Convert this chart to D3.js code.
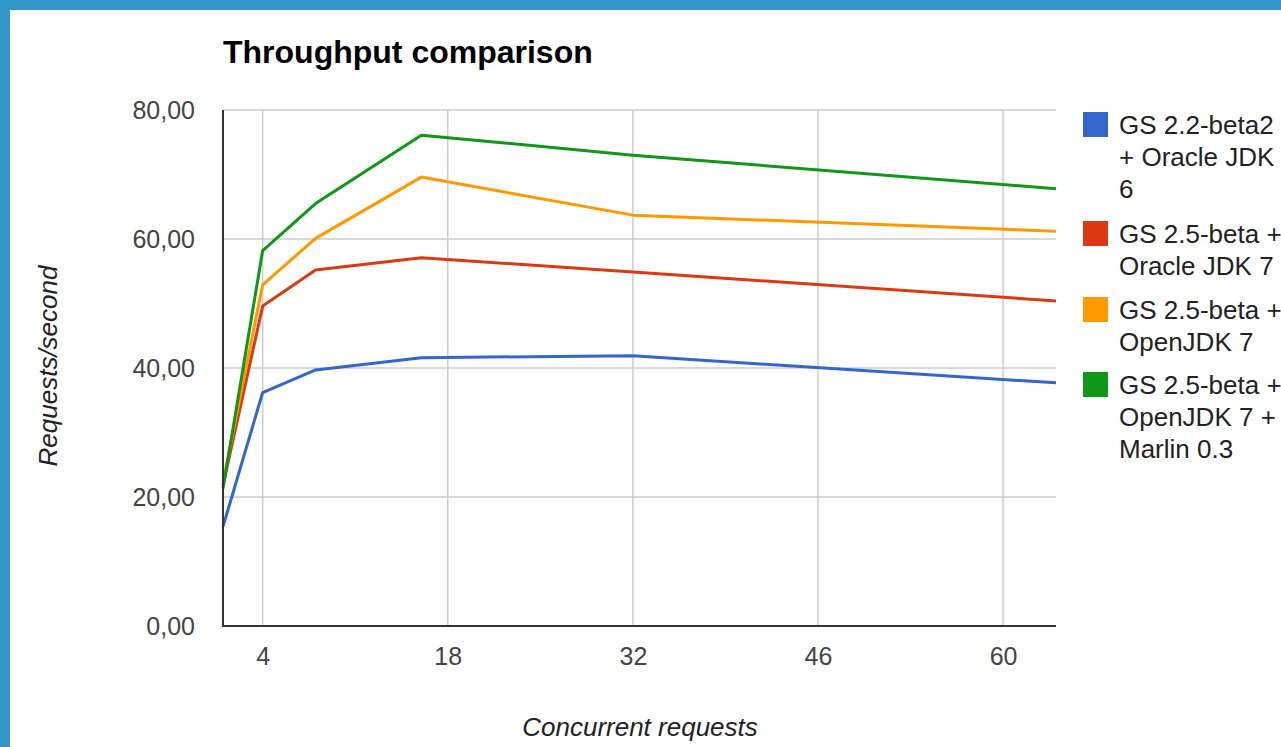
<!DOCTYPE html>
<html><head><meta charset="utf-8">
<script src="https://cdn.jsdelivr.net/npm/d3@7"></script>
<style>
html,body{margin:0;padding:0;background:#3497c9;}
svg{display:block;font-family:"Liberation Sans",Arial,sans-serif;}
</style></head>
<body>
<svg id="c" width="1281" height="747"></svg>
<script>
const xValues = [1, 4, 8, 16, 32, 64];
const seriesNames = [
  ["GS 2.2-beta2", "+ Oracle JDK", "6"],
  ["GS 2.5-beta +", "Oracle JDK 7"],
  ["GS 2.5-beta +", "OpenJDK 7"],
  ["GS 2.5-beta +", "OpenJDK 7 +", "Marlin 0.3"]
];
const seriesColors = ["#3366cc", "#dc3912", "#ff9900", "#109618"];
const blueValues   = [15.4, 36.2, 39.7, 41.6, 41.9, 37.7];
const redValues    = [21.8, 49.6, 55.2, 57.1, 54.9, 50.4];
const orangeValues = [22.3, 52.9, 60.1, 69.6, 63.7, 61.2];
const greenValues  = [21.3, 58.2, 65.5, 76.1, 73.0, 67.8];
const seriesValues = [blueValues, redValues, orangeValues, greenValues];
const xTicks = [4, 18, 32, 46, 60];
const yTicks = [0, 20, 40, 60, 80];

const svg = d3.select("#c");
svg.append("rect").attr("x",10).attr("y",10).attr("width",1271).attr("height",737).attr("fill","#fff");

const L=223, R=1056, T=110, B=626;
const x = d3.scaleLinear().domain([1,64]).range([L,R]);
const y = d3.scaleLinear().domain([0,80]).range([B,T]);
const fmt = v => d3.format(".2f")(v).replace(".", ",");
const FF = "Liberation Sans, Arial, sans-serif";

// gridlines
svg.append("g").selectAll("line").data(yTicks.filter(d=>d>0)).join("line")
  .attr("x1",L).attr("x2",R).attr("y1",d=>y(d)).attr("y2",d=>y(d))
  .attr("stroke","#cccccc").attr("stroke-width",1.5);
svg.append("g").selectAll("line").data(xTicks).join("line")
  .attr("x1",d=>x(d)).attr("x2",d=>x(d)).attr("y1",T).attr("y2",B)
  .attr("stroke","#cccccc").attr("stroke-width",1.5);

// axes
const yAxis = svg.append("g").attr("transform",`translate(${L},0)`)
  .call(d3.axisLeft(y).tickValues(yTicks).tickFormat(fmt).tickSize(0).tickPadding(28));
yAxis.select(".domain").remove();
yAxis.selectAll("text").attr("font-size",25).attr("fill","#444").attr("font-family",FF);
const xAxis = svg.append("g").attr("transform",`translate(0,${B})`)
  .call(d3.axisBottom(x).tickValues(xTicks).tickSize(0).tickPadding(21));
xAxis.select(".domain").remove();
xAxis.selectAll("text").attr("font-size",25).attr("fill","#444").attr("font-family",FF);

// lines
const line = d3.line().x((d,i)=>x(xValues[i])).y(d=>y(d));
svg.append("g").selectAll("path").data(seriesValues).join("path")
  .attr("d",line).attr("fill","none")
  .attr("stroke",(d,i)=>seriesColors[i]).attr("stroke-width",3).attr("stroke-linejoin","round");

// axis lines
svg.append("line").attr("x1",L).attr("x2",L).attr("y1",T).attr("y2",B+1).attr("stroke","#333").attr("stroke-width",2);
svg.append("line").attr("x1",L).attr("x2",R).attr("y1",B).attr("y2",B).attr("stroke","#333").attr("stroke-width",2);

// title
svg.append("text").attr("x",223).attr("y",63).attr("font-size",32).attr("font-weight","bold").attr("fill","#000").text("Throughput comparison");

// axis titles
svg.append("text").attr("x",640).attr("y",736).attr("text-anchor","middle").attr("font-size",26)
  .attr("font-style","italic").attr("fill","#222").text("Concurrent requests");
svg.append("text").attr("transform","translate(57,366) rotate(-90)").attr("text-anchor","middle").attr("font-size",26)
  .attr("font-style","italic").attr("fill","#222").text("Requests/second");

// legend
const legendTops = [112, 221, 297, 372];
const lg = svg.append("g");
seriesNames.forEach((lines,i)=>{
  const g = lg.append("g").attr("transform",`translate(1083,${legendTops[i]})`);
  g.append("rect").attr("width",25).attr("height",25).attr("fill",seriesColors[i]);
  lines.forEach((t,j)=>{
    g.append("text").attr("x",36).attr("y",22+j*32).attr("font-size",26).attr("fill","#222").text(t);
  });
});
</script>
</body></html>
